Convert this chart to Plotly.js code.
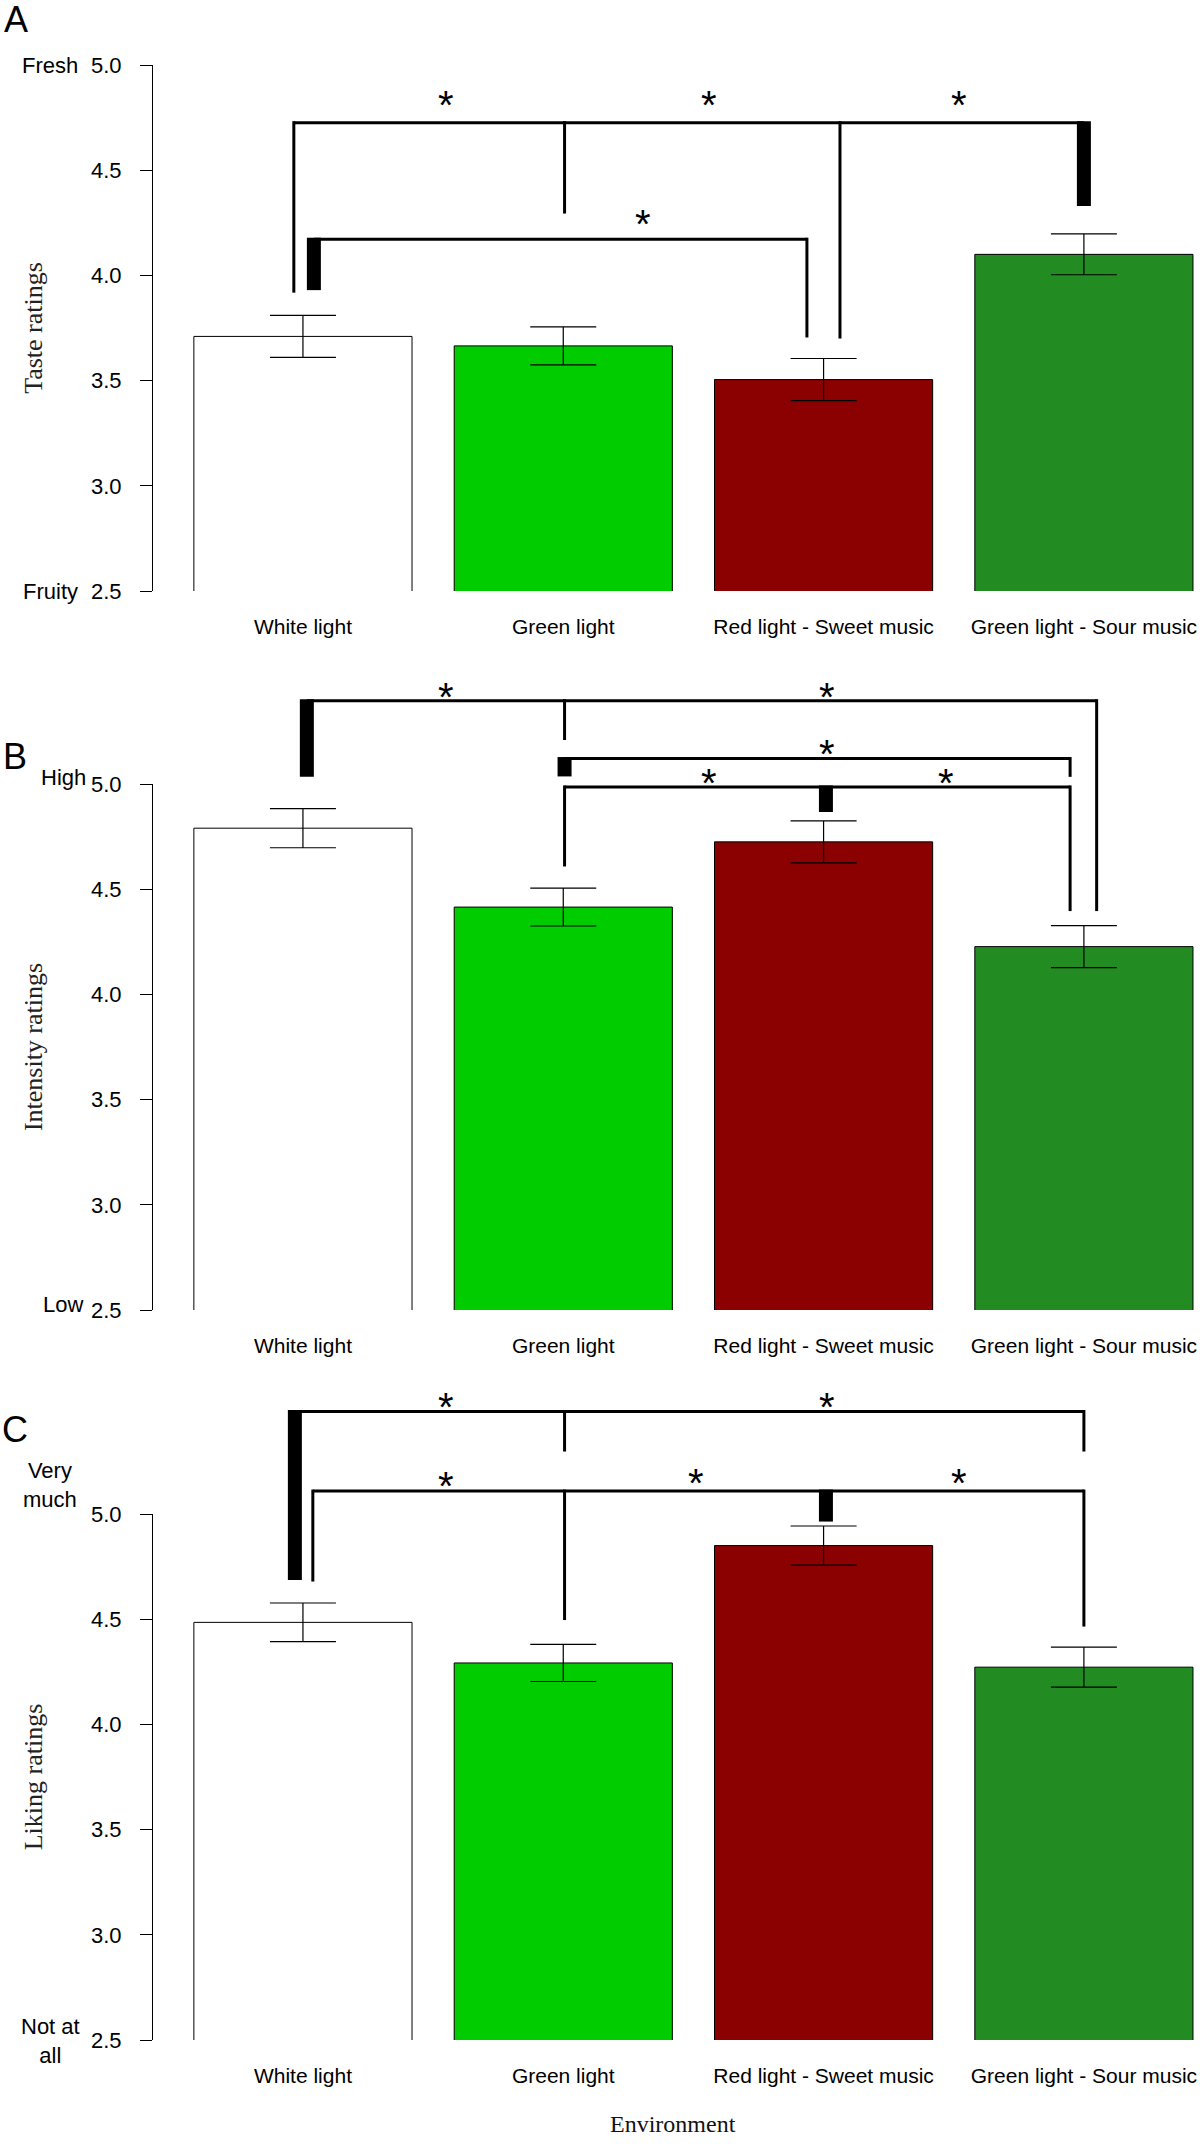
<!DOCTYPE html>
<html>
<head>
<meta charset="utf-8">
<script src="https://cdn.plot.ly/plotly-3.0.1.min.js"></script>
<style>html,body{margin:0;padding:0;background:#fff;}#chart{width:1200px;height:2144px;}</style>
</head>
<body>
<div id="chart"></div>
<script>
// ---------- data ----------
const categories = ['White light', 'Green light', 'Red light - Sweet music', 'Green light - Sour music'];
const barColors = ['#FFFFFF', '#00CC00', '#8B0000', '#228B22'];

const tasteMean = [3.71, 3.665, 3.505, 4.10];
const tasteSE   = [0.10, 0.09, 0.10, 0.097];

const intensityMean = [4.79, 4.415, 4.725, 4.227];
const intensitySE   = [0.093, 0.09, 0.10, 0.10];

const likingMean = [4.485, 4.292, 4.85, 4.272];
const likingSE   = [0.092, 0.088, 0.093, 0.095];

const yTickVals = [2.5, 3.0, 3.5, 4.0, 4.5, 5.0];
const yTickText = ['2.5', '3.0', '3.5', '4.0', '4.5', '5.0'];

const panelTitles = ['Taste ratings', 'Intensity ratings', 'Liking ratings'];
const panelLetters = ['A', 'B', 'C'];
const topAnchors = ['Fresh', 'High', 'Very<br>much'];
const bottomAnchors = ['Fruity', 'Low', 'Not at<br>all'];

// significance brackets (x in category index units, y in rating units)
const bracketsA = [
  {y: 4.726, legs: [{x: -0.035, to: 3.918}, {x: 1.005, to: 4.294}, {x: 2.063, to: 3.70}, {x: 3.0, to: 4.33, thick: true}],
   stars: [[0.549, 4.855], [1.56, 4.855], [2.52, 4.855]]},
  {y: 4.172, legs: [{x: 0.042, to: 3.93, thick: true}, {x: 1.936, to: 3.705}],
   stars: [[1.306, 4.285]]}
];
const bracketsB = [
  {y: 5.396, legs: [{x: 0.015, to: 5.034, thick: true}, {x: 1.005, to: 5.209}, {x: 3.049, to: 4.396}],
   stars: [[0.549, 5.456], [2.013, 5.456]]},
  {y: 5.121, legs: [{x: 1.005, to: 5.036, thick: true}, {x: 2.947, to: 5.034}],
   stars: [[2.013, 5.187]]},
  {y: 4.986, legs: [{x: 1.005, to: 4.608}, {x: 2.009, to: 4.867, thick: true}, {x: 2.947, to: 4.396}],
   stars: [[1.56, 5.047], [2.47, 5.047]]}
];
const bracketsC = [
  {y: 5.487, legs: [{x: -0.031, to: 4.686, thick: true}, {x: 1.005, to: 5.297}, {x: 3.0, to: 5.297}],
   stars: [[0.549, 5.551], [2.013, 5.551]]},
  {y: 5.109, legs: [{x: 0.038, to: 4.679}, {x: 1.005, to: 4.496}, {x: 2.009, to: 4.964, thick: true}, {x: 3.0, to: 4.465}],
   stars: [[0.549, 5.178], [1.51, 5.19], [2.52, 5.19]]}
];

// ---------- layout geometry ----------
const W = 1200, H = 2144;
const PX_PER_UNIT = 210.4;
const panelBottomPx = [591, 1310, 2040];
const X_RANGE = [-0.576, 3.446];
const Y_RANGE = [2.5, 5.0];

const domains = panelBottomPx.map(b => {
  const top = b - (Y_RANGE[1] - Y_RANGE[0]) * PX_PER_UNIT;
  return [1 - b / H, 1 - top / H];
});
function paperX(u) { return (u - X_RANGE[0]) / (X_RANGE[1] - X_RANGE[0]); }
function paperY(p, v) { const d = domains[p]; return d[0] + (v - Y_RANGE[0]) / (Y_RANGE[1] - Y_RANGE[0]) * (d[1] - d[0]); }
function pagePx(px) { return (px - 153) / (W - 153); }   // page x pixel -> paper
function pagePy(py) { return 1 - py / H; }

const means = [tasteMean, intensityMean, likingMean];
const ses = [tasteSE, intensitySE, likingSE];
const brackets = [bracketsA, bracketsB, bracketsC];
const xIdx = categories.map((c, i) => i);

const traces = means.map((m, p) => ({
  type: 'bar',
  x: xIdx,
  y: m,
  width: 0.838,
  xaxis: p === 0 ? 'x' : 'x' + (p + 1),
  yaxis: p === 0 ? 'y' : 'y' + (p + 1),
  marker: {color: barColors, line: {color: '#000', width: 1}},
  error_y: {type: 'data', array: ses[p], visible: true, color: '#000', thickness: 1.2, width: 33},
  hoverinfo: 'x+y',
  showlegend: false
}));

const shapes = [];
const annotations = [];
const LINE = 3, THICK = 14;

brackets.forEach((list, p) => {
  list.forEach(b => {
    const xs = b.legs.map(l => l.x);
    const x0 = Math.min(...xs), x1 = Math.max(...xs);
    shapes.push({type: 'line', xref: 'paper', yref: 'paper',
      x0: paperX(x0), x1: paperX(x1), y0: paperY(p, b.y), y1: paperY(p, b.y),
      line: {color: '#000', width: LINE}});
    b.legs.forEach(l => {
      shapes.push({type: 'line', xref: 'paper', yref: 'paper',
        x0: paperX(l.x), x1: paperX(l.x), y0: paperY(p, b.y) + 1.5 / H, y1: paperY(p, l.to),
        line: {color: '#000', width: l.thick ? THICK : LINE}});
    });
    b.stars.forEach(s => {
      annotations.push({xref: 'paper', yref: 'paper', x: paperX(s[0]), y: paperY(p, s[1]),
        text: '*', showarrow: false, xanchor: 'center', yanchor: 'middle', yshift: -9,
        font: {family: 'Liberation Sans, Arial, sans-serif', size: 40, color: '#000'}});
    });
  });
});

// panel letters and scale anchors
const letterPos = [[16, 20], [15, 756], [15, 1429]];
const topAnchorPos = [[50, 66], [63, 777], [50, 1485]];
const bottomAnchorPos = [[50, 591], [63, 1304], [50, 2041]];
for (let p = 0; p < 3; p++) {
  annotations.push({xref: 'paper', yref: 'paper', x: pagePx(letterPos[p][0]), y: pagePy(letterPos[p][1]),
    text: panelLetters[p], showarrow: false, xanchor: 'center', yanchor: 'middle',
    font: {family: 'Liberation Sans, Arial, sans-serif', size: 36, color: '#000'}});
  annotations.push({xref: 'paper', yref: 'paper', x: pagePx(topAnchorPos[p][0]), y: pagePy(topAnchorPos[p][1]),
    text: topAnchors[p], showarrow: false, xanchor: 'center', yanchor: 'middle', align: 'center',
    font: {family: 'Liberation Sans, Arial, sans-serif', size: 22, color: '#000'}});
  annotations.push({xref: 'paper', yref: 'paper', x: pagePx(bottomAnchorPos[p][0]), y: pagePy(bottomAnchorPos[p][1]),
    text: bottomAnchors[p], showarrow: false, xanchor: 'center', yanchor: 'middle', align: 'center',
    font: {family: 'Liberation Sans, Arial, sans-serif', size: 22, color: '#000'}});
}
annotations.push({xref: 'paper', yref: 'paper', x: pagePx(673), y: pagePy(2124),
  text: 'Environment', showarrow: false, xanchor: 'center', yanchor: 'middle',
  font: {family: 'Liberation Serif, Times New Roman, serif', size: 24, color: '#111'}});

const xBase = {
  range: X_RANGE, domain: [0, 1], tickvals: xIdx, ticktext: categories,
  showline: false, showgrid: false, zeroline: false, ticks: '',
  ticklabelstandoff: 21, tickfont: {size: 21}, fixedrange: true
};
function yAxis(p) {
  return {
    range: Y_RANGE, domain: domains[p], tickvals: yTickVals, ticktext: yTickText,
    showline: true, linecolor: '#000', linewidth: 1, mirror: false,
    ticks: 'outside', ticklen: 12, tickwidth: 1, tickcolor: '#000',
    ticklabelstandoff: 14, tickfont: {size: 22},
    showgrid: false, zeroline: false, fixedrange: true,
    title: {text: panelTitles[p], standoff: 40, font: {family: 'Liberation Serif, Times New Roman, serif', size: 26, color: '#222'}}
  };
}

const layout = {
  width: W, height: H,
  margin: {l: 153, r: 0, t: 0, b: 0, autoexpand: false},
  paper_bgcolor: '#fff', plot_bgcolor: 'rgba(0,0,0,0)',
  font: {family: 'Liberation Sans, Arial, sans-serif', size: 21, color: '#000'},
  showlegend: false,
  xaxis: Object.assign({}, xBase, {anchor: 'y'}),
  xaxis2: Object.assign({}, xBase, {anchor: 'y2'}),
  xaxis3: Object.assign({}, xBase, {anchor: 'y3'}),
  yaxis: Object.assign(yAxis(0), {anchor: 'x'}),
  yaxis2: Object.assign(yAxis(1), {anchor: 'x2'}),
  yaxis3: Object.assign(yAxis(2), {anchor: 'x3'}),
  shapes: shapes,
  annotations: annotations
};

Plotly.newPlot('chart', traces, layout, {displayModeBar: false, staticPlot: true});
</script>
</body>
</html>
